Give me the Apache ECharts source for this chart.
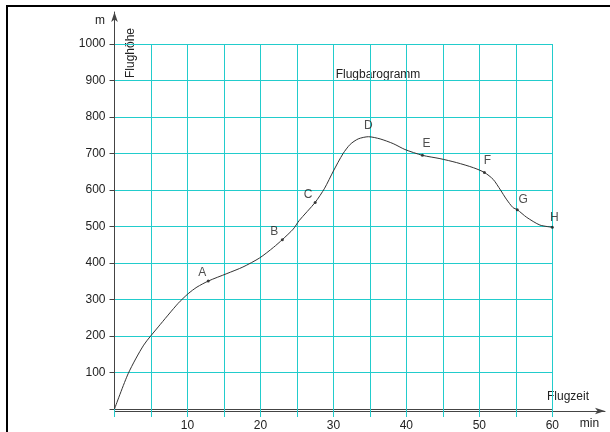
<!DOCTYPE html>
<html>
<head>
<meta charset="utf-8">
<script src="https://cdn.jsdelivr.net/npm/echarts@6/dist/echarts.min.js"></script>
<style>html,body{margin:0;padding:0;background:#fff}#c{width:610px;height:432px}</style>
</head>
<body>
<div id="c"></div>
<script>
// Flight time (min) and height (m)
const flightTime = [0, 1.9, 4, 6, 8.7, 10.1, 11.3, 12.9, 15.4, 17.6, 19.9, 21.8, 23.0, 24.5, 25.3, 27.5, 28.8, 30.0, 31.3, 32.3, 33.4, 34.8, 36.4, 38.2, 39.8, 42.2, 44.6, 46.9, 49.2, 50.7, 51.9, 52.9, 53.7, 54.6, 55.2, 56.5, 58.3, 60];
const flightHeight = [0, 98, 175, 225, 289, 316, 334, 351, 371, 389, 414, 443, 464, 493, 516, 566, 605, 652, 699, 725, 740, 746, 740, 727, 711, 695, 686, 675, 661, 648, 629, 600, 575, 552, 546, 525, 504, 498];
// Marked points
const pointNames = ['A', 'B', 'C', 'D', 'E', 'F', 'G', 'H'];
const pointTime = [12.85, 23.0, 27.5, 34.8, 42.2, 50.7, 55.2, 60];
const pointHeight = [351, 464, 566, 746, 695, 648, 546, 498];
// Axis ranges
const xMin = 0, xMax = 60, xStep = 5;
const yMin = 0, yMax = 1000, yStep = 100;
const texts = { yUnit: 'm', yName: 'Flughöhe', title: 'Flugbarogramm', xName: 'Flugzeit', xUnit: 'min' };

// label styling (offsets of letters from their points)
const labelOffsets = { A: [-6, -8], B: [-8, -8], C: [-7, -8], D: [0, -11], E: [4, -12], F: [3, -12], G: [6, -10], H: [2, -10] };

const font = 'Liberation Sans, Arial, sans-serif';
const txtColor = '#222';
const gridColor = '#22cccc';
const axisColor = '#444';

const chart = echarts.init(document.getElementById('c'), null, { renderer: 'canvas' });

const option = {
  animation: false,
  backgroundColor: '#fff',
  grid: [
    { left: 114.5, right: 57.7, top: 44, bottom: 21 },
    { left: 114.5, right: 5, top: 12, bottom: 21 }
  ],
  xAxis: [
    {
      gridIndex: 0, type: 'value', min: xMin, max: xMax, interval: xStep,
      axisLine: { show: true, lineStyle: { color: axisColor, width: 1 } },
      axisTick: { show: true, length: 8, lineStyle: { color: gridColor, width: 1 } },
      axisLabel: { margin: 11, color: txtColor, fontFamily: font, fontSize: 12,
        formatter: v => (v > 0 && v % 10 === 0) ? String(v) : '' },
      splitLine: { show: true, lineStyle: { color: gridColor, width: 1 } }
    },
    {
      gridIndex: 1, type: 'value', min: 0, max: 1,
      axisLine: { show: true, symbol: ['none', 'arrow'], symbolSize: [5, 10], symbolOffset: [0, 0], lineStyle: { color: axisColor, width: 1 } },
      axisTick: { show: false }, axisLabel: { show: false }, splitLine: { show: false }
    }
  ],
  yAxis: [
    {
      gridIndex: 0, type: 'value', min: yMin, max: yMax, interval: yStep,
      axisLine: { show: true, lineStyle: { color: axisColor, width: 1 } },
      axisTick: { show: true, length: 5, lineStyle: { color: axisColor, width: 1 } },
      axisLabel: { margin: 9, color: txtColor, fontFamily: font, fontSize: 12,
        formatter: v => v > 0 ? String(v) : '' },
      splitLine: { show: true, lineStyle: { color: gridColor, width: 1 } }
    },
    {
      gridIndex: 1, type: 'value', min: 0, max: 1,
      axisLine: { show: true, symbol: ['none', 'arrow'], symbolSize: [5, 10], lineStyle: { color: axisColor, width: 1 } },
      axisTick: { show: false }, axisLabel: { show: false }, splitLine: { show: false }
    }
  ],
  series: [
    {
      type: 'line', xAxisIndex: 0, yAxisIndex: 0,
      data: flightTime.map((t, i) => [t, flightHeight[i]]),
      smooth: 0.25, showSymbol: false, symbol: 'none',
      lineStyle: { color: '#333', width: 1 }
    },
    {
      type: 'scatter', xAxisIndex: 0, yAxisIndex: 0,
      data: pointNames.map((n, i) => ({
        name: n, value: [pointTime[i], pointHeight[i]],
        symbolSize: n === 'D' ? 0 : 3,
        label: { offset: labelOffsets[n] }
      })),
      itemStyle: { color: '#111' },
      label: { show: true, position: 'inside', formatter: p => p.name, color: txtColor, fontFamily: font, fontSize: 12 }
    }
  ],
  graphic: [
    { type: 'rect', shape: { x: 7, y: 6, width: 800, height: 600 }, style: { fill: 'none', stroke: '#000', lineWidth: 2 }, silent: true, z: 100 },
    { type: 'text', x: 100, y: 21, style: { text: texts.yUnit, fill: txtColor, font: '12px ' + font, textAlign: 'center', textVerticalAlign: 'middle' } },
    { type: 'text', x: 131, y: 53, rotation: Math.PI / 2, style: { text: texts.yName, fill: txtColor, font: '12px ' + font, textAlign: 'center', textVerticalAlign: 'middle' } },
    { type: 'text', x: 378, y: 75, style: { text: texts.title, fill: txtColor, font: '12px ' + font, textAlign: 'center', textVerticalAlign: 'middle' } },
    { type: 'text', x: 568, y: 397, style: { text: texts.xName, fill: txtColor, font: '12px ' + font, textAlign: 'center', textVerticalAlign: 'middle' } },
    { type: 'text', x: 589.5, y: 424, style: { text: texts.xUnit, fill: txtColor, font: '12px ' + font, textAlign: 'center', textVerticalAlign: 'middle' } }
  ]
};
chart.setOption(option);
</script>
</body>
</html>
